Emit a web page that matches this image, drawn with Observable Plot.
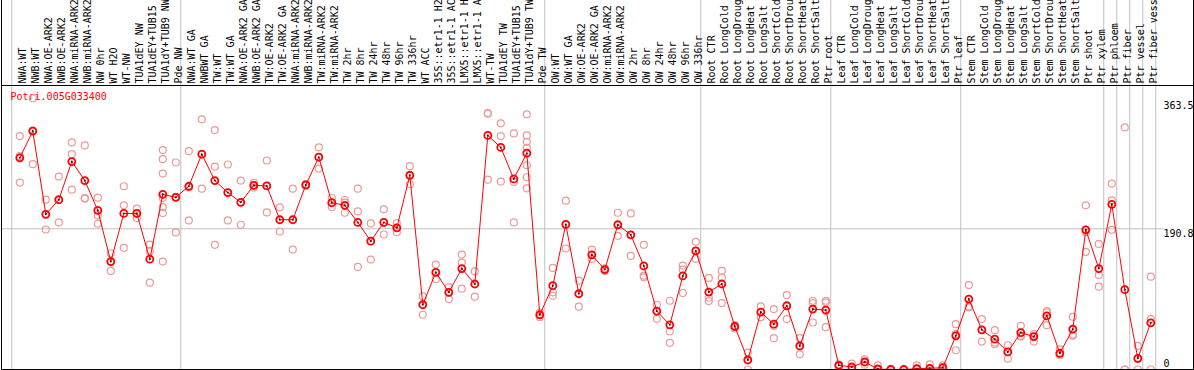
<!DOCTYPE html>
<html><head><meta charset="utf-8">
<script src="https://cdn.jsdelivr.net/npm/d3@7"></script>
<script src="https://cdn.jsdelivr.net/npm/@observablehq/plot@0.6"></script>
<style>
html,body{margin:0;padding:0;background:#fff;}
#chart svg{display:block;}
</style></head><body><div id="chart"></div>
<script>
const title = "Potri.005G033400";

const categories = [
  "NWA:WT","NWB:WT","NWA:OE-ARK2","NWB:OE-ARK2","NWA:miRNA-ARK2","NWB:miRNA-ARK2","NW 0hr","WT H2O","WT-NW",
  "TUA1dEY NW","TUA1dEY+TUB15 NW","TUA1dY+TUB9 NW","Pde NW",
  "NWA:WT GA","NWBWT GA","TW:WT","TW:WT GA","NWA:OE-ARK2 GA","NWB:OE-ARK2 GA","TW:OE-ARK2","TW:OE-ARK2 GA",
  "NWA:miRNA-ARK2","NWB:miRNA-ARK2","TW:miRNA-ARK2","TW:miRNA-ARK2 GA","TW 2hr","TW 8hr","TW 24hr","TW 48hr","TW 96hr","TW 336hr",
  "WT ACC","35S::etr1-1 H2O","35S::etr1-1 ACC","LMX5::etr1-1 H2O","LMX5::etr1-1 ACC","WT-TW",
  "TUA1dEY TW","TUA1dEY+TUB15 TW","TUA1dY+TUB9 TW","Pde TW",
  "OW:WT","OW:WT GA","OW:OE-ARK2","OW:OE-ARK2 GA","OW:miRNA-ARK2","OW:miRNA-ARK2 GA",
  "OW 2hr","OW 8hr","OW 24hr","OW 48hr","OW 96hr","OW 336hr",
  "Root CTR","Root LongCold","Root LongDrought","Root LongHeat","Root LongSalt","Root ShortCold","Root ShortDrought","Root ShortHeat","Root ShortSalt","Ptr root",
  "Leaf CTR","Leaf LongCold","Leaf LongDrought","Leaf LongHeat","Leaf LongSalt","Leaf ShortCold","Leaf ShortDrought","Leaf ShortHeat","Leaf ShortSalt","Ptr leaf",
  "Stem CTR","Stem LongCold","Stem LongDrought","Stem LongHeat","Stem LongSalt","Stem ShortCold","Stem ShortDrought","Stem ShortHeat","Stem ShortSalt","Ptr shoot",
  "Ptr xylem","Ptr phloem","Ptr fiber","Ptr vessel","Ptr fiber vessel"
];

const means = [
  286.9, 323.2, 210.3, 230.2, 281.9, 256.1, 215.7, 146.3, 211.6, 211.6,
  149.5, 237.5, 233.4, 248.4, 291.9, 256.1, 239.8, 226.6, 249.7, 248.8,
  203.0, 203.0, 250.2, 287.8, 226.1, 222.5, 199.4, 174.0, 199.4, 192.1,
  263.3, 87.8, 131.8, 104.6, 136.8, 115.9, 317.3, 301.0, 258.3, 293.3,
  74.2, 113.6, 196.7, 102.7, 155.4, 135.4, 196.2, 182.6, 140.4, 79.2,
  60.6, 126.8, 160.8, 105.0, 115.9, 58.3, 12.9, 77.8, 61.5, 86.4,
  32.0, 81.9, 80.5, 5.7, 3.4, 10.2, 0.7, 0, 0, 1.1,
  1.6, 2.5, 45.6, 95.5, 53.8, 41.1, 23.8, 50.1, 44.7, 72.8,
  22.0, 54.7, 189.4, 136.8, 223.9, 108.2, 15.2, 63.3
];

const replicates = [
  [316.4, 289.2, 253.4], [367.7, 323.7, 278.3], [230.2, 210.7, 189.8], [261.5, 229.8, 199.4],
  [307.8, 291.9, 243.8], [303.7, 232.5, 231.6], [232.9, 208.9, 197.6], [157.6, 146.3, 133.6],
  [248.4, 222.5, 164.9], [218.0, 211.6, 205.3], [169.4, 160.4, 117.7],
  [297.4, 285.1, 265.6, 232.5, 220.2, 212.1, 146.3],
  [280.6, 233.9, 185.8], [296.0, 247.0, 202.1], [339.1, 291.5, 245.2], [324.6, 275.1, 169.0],
  [277.9, 239.8, 202.1], [256.1, 226.6, 196.2], [252.9, 249.7, 246.6], [283.3, 248.8, 213.0],
  [219.8, 203.0, 187.1], [245.2, 203.0, 162.6], [251.5, 250.2, 248.8], [301.0, 287.8, 272.4],
  [232.5, 226.1, 220.2], [229.8, 226.1, 212.5], [245.2, 214.3, 139.0], [198.0, 174.0, 149.0],
  [217.1, 199.4, 183.0], [198.5, 192.1, 186.2], [275.6, 263.3, 251.1], [99.1, 87.8, 74.2],
  [142.2, 131.8, 122.7], [111.8, 104.6, 95.5], [155.8, 144.9, 109.6], [133.1, 115.9, 98.7],
  [347.7, 346.8, 257.4], [333.7, 316.4, 254.7], [320.0, 254.3, 199.4],
  [345.9, 317.3, 308.7, 300.5, 276.9, 260.6, 245.6],
  [77.3, 74.2, 71.0], [137.7, 104.6, 100.0], [228.9, 196.7, 164.0], [120.4, 102.7, 85.1],
  [162.6, 155.4, 149.9], [137.2, 135.4, 133.6], [212.5, 196.2, 181.2], [211.6, 182.6, 154.0],
  [169.0, 127.2, 125.0], [87.8, 79.2, 68.7], [93.2, 51.5, 36.1], [140.9, 135.4, 103.7],
  [173.1, 160.8, 149.9], [124.1, 97.3, 92.8], [133.6, 124.5, 90.0], [60.1, 58.3, 55.6],
  [22.9, 12.9, 0], [85.5, 77.8, 71.0], [81.9, 59.2, 42.4], [100.9, 86.4, 68.3],
  [42.4, 32.0, 20.6], [93.2, 90.0, 63.7], [91.0, 93.2, 57.4], [7.0, 5.7, 3.9],
  [7.9, 3.4, 0.2], [13.8, 10.2, 6.6], [5.7, 0.7, 0], [1.0, 0, 0], [0, 0, 0],
  [5.7, 1.1, 0], [7.0, 1.6, 0], [5.7, 2.5, 0], [61.5, 47.9, 26.1], [114.5, 85.5, 84.2],
  [68.3, 53.8, 37.9], [53.3, 36.5, 34.2], [32.9, 23.8, 14.7], [59.2, 45.6, 44.7],
  [47.9, 44.7, 37.9], [79.2, 77.3, 60.1], [27.4, 22.0, 19.3], [71.4, 47.4, 45.6],
  [222.5, 186.2, 159.5], [170.3, 128.2, 112.3], [252.0, 229.3, 189.4], [328.2, 0, 0],
  [32.0, 14.3, 0], [125.9, 68.3, 0]
];

const separators = [-1, 12, 40, 52, 62, 72, 83, 84, 85, 86, 87];
const yTicks = [363.5, 190.8, 0];

const W = 1194, H = 370;
const mt = 85, mb = 1, ml = 1, mr = 1;
const yMax = 385;
const step = 13, firstX = 19.3;
const xDomain = [(ml - firstX) / step, (W - mr - firstX) / step];
const yTopValue = yMax * (H - mb) / (H - mt - mb);
const labelX = (1163 - firstX) / step;

const meanData = means.map((v, i) => ({i, v}));
const repData = replicates.flatMap((arr, i) => arr.map(v => ({i, v})));

const chart = Plot.plot({
  width: W, height: H,
  marginTop: mt, marginBottom: mb, marginLeft: ml, marginRight: mr,
  x: {type: "linear", domain: xDomain, axis: null},
  y: {type: "linear", domain: [0, yMax], axis: null},
  style: {fontFamily: "'DejaVu Sans Mono', monospace", fontSize: "10px", background: "white", overflow: "hidden"},
  marks: [
    Plot.ruleX(separators, {x: d => d + 0.38, y1: 0, y2: yTopValue, stroke: "#c0c0c0", strokeWidth: 1}),
    Plot.ruleY([yTicks[1]], {x1: xDomain[0], x2: labelX, stroke: "#c0c0c0", strokeWidth: 1}),
    Plot.frame({stroke: "black", strokeWidth: 1}),
    Plot.ruleX([xDomain[0]], {y1: 0, y2: yTopValue, stroke: "black"}),
    Plot.ruleX([xDomain[1]], {y1: 0, y2: yTopValue, stroke: "black"}),
    Plot.text(categories, {x: (d, i) => i, frameAnchor: "top", rotate: -90, textAnchor: "start", dy: -2, dx: -1, fill: "black"}),
    Plot.text([title], {frameAnchor: "top-left", dx: 9, dy: 7, textAnchor: "start", lineAnchor: "top", fill: "#ff0000"}),
    Plot.text(yTicks.filter(d => d > 0), {y: d => d, frameAnchor: "right", dx: -30, textAnchor: "start", lineAnchor: "top", dy: 1, fill: "black"}),
    Plot.text(yTicks.filter(d => d === 0), {y: d => d, frameAnchor: "right", dx: -30, textAnchor: "start", lineAnchor: "bottom", dy: -3, fill: "black"}),
    Plot.dot(repData, {x: "i", y: "v", r: 3.5, stroke: "#ec9a9a", strokeWidth: 1.2, fill: "none", clip: "frame"}),
    Plot.line(meanData, {x: "i", y: "v", stroke: "#ff0000", strokeWidth: 1, clip: "frame"}),
    Plot.dot(meanData, {x: "i", y: "v", r: 3.5, stroke: "#ff0000", strokeWidth: 1.8, fill: "none", clip: "frame"}),
    Plot.dot(meanData, {x: "i", y: "v", r: 1, fill: "#600000", stroke: "none", clip: "frame"})
  ]
});
document.getElementById("chart").appendChild(chart);
</script>
</body></html>
